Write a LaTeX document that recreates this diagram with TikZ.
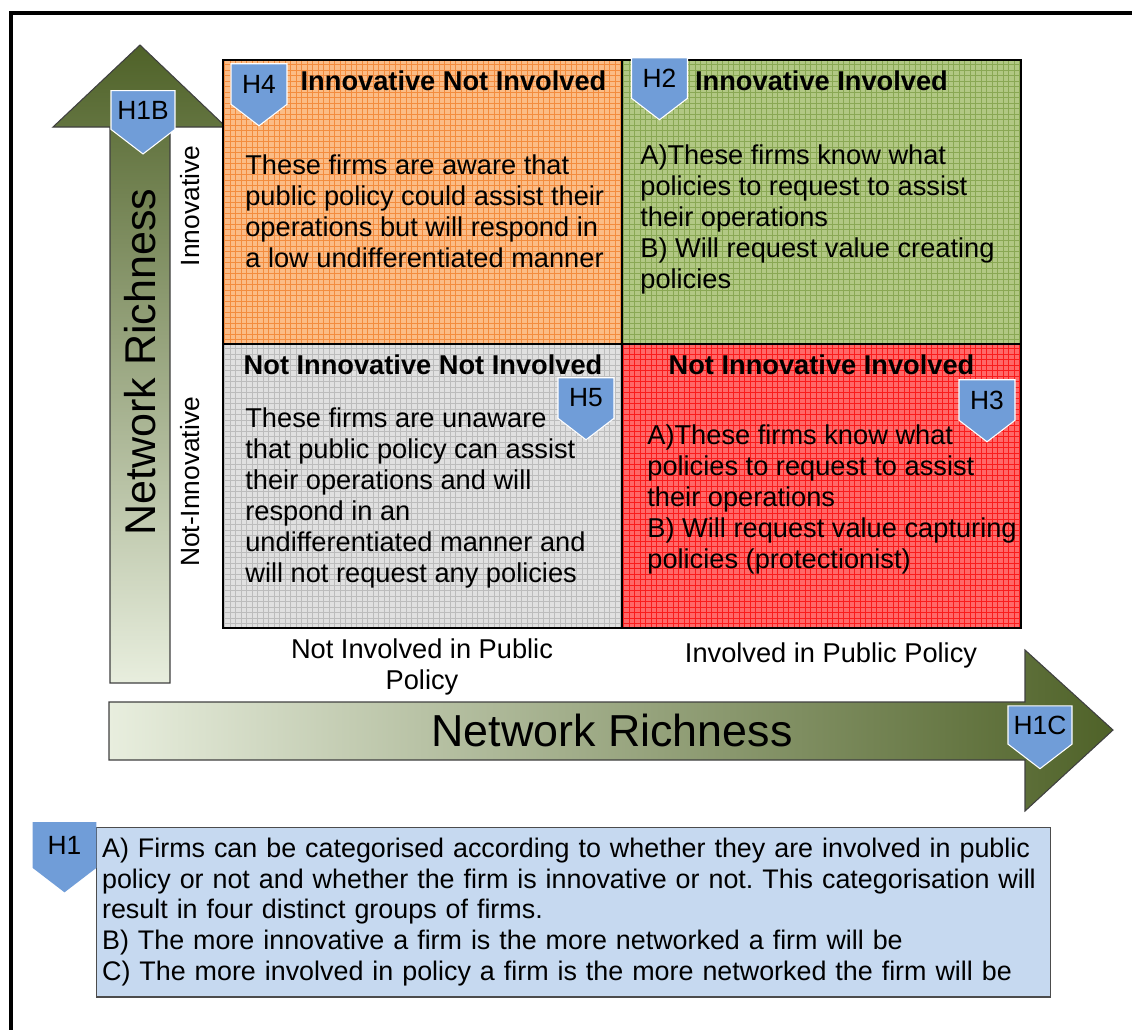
\documentclass[tikz,border=0pt]{standalone}
\usepackage{fontspec}
\setmainfont{Liberation Sans}
\usetikzlibrary{shapes.symbols,positioning}
\frenchspacing

\definecolor{hblue}{RGB}{112,157,216}
\definecolor{boxblue}{RGB}{198,217,240}
\definecolor{olivedark}{RGB}{79,98,40}
\definecolor{olivelight}{RGB}{232,238,222}
\definecolor{orgfill}{RGB}{251,188,134}
\definecolor{orgline}{RGB}{243,140,62}
\definecolor{grnfill}{RGB}{178,200,132}
\definecolor{grnline}{RGB}{138,168,84}
\definecolor{gryfill}{RGB}{224,224,224}
\definecolor{gryline}{RGB}{188,188,188}
\definecolor{redfill}{RGB}{255,104,104}
\definecolor{redline}{RGB}{250,28,28}

\tikzset{
  txt/.style={font=\fontsize{15.5}{17.7}\selectfont, inner sep=0pt, align=left},
  ttl/.style={font=\fontsize{15.5}{17.7}\selectfont\bfseries, inner sep=0pt},
  axl/.style={font=\fontsize{15}{17.7}\selectfont, inner sep=0pt, align=center},
  quad/.style={draw=black, line width=0.8pt, outer sep=0pt, inner sep=0pt,
    minimum width=7.98cm, minimum height=5.68cm,
    path picture={\draw[#1, line width=0.35pt, step=0.11cm]
      (path picture bounding box.south west) grid (path picture bounding box.north east);}},
  hyp/.style={signal, signal to=south, signal pointer angle=105, fill=hblue,
    draw=white, line width=0.6pt, font=\fontsize{15}{16}\selectfont,
    inner sep=0pt, minimum width=1.12cm, minimum height=1.07cm},
  hypw/.style={hyp, minimum width=1.28cm, minimum height=1.17cm},
  bigarr/.style={draw=black!75, line width=0.6pt},
}

\begin{document}
\begin{tikzpicture}[x=0.02cm, y=-0.02cm]
\useasboundingbox (0,0) rectangle (1132,1029);

% frame
\draw[line width=2.3pt] (11,1040) -- (11,13) -- (1140,13);

% Network richness arrows
\path[bigarr, top color=olivedark, bottom color=olivelight]
  (110,683) -- (110,127) -- (53,127) -- (140,45) -- (226,127)
  -- (170,127) -- (170,683) -- cycle;
\path[bigarr, left color=olivelight, right color=olivedark]
  (109,702) -- (1025,702) -- (1025,650) -- (1113,730) -- (1025,811)
  -- (1025,760) -- (109,760) -- cycle;

\node[font=\fontsize{24.5}{28}\selectfont, rotate=90] (nrup) at (140,362) {Network Richness};
\node[font=\fontsize{25.5}{29}\selectfont] (nrright) at (612,730) {Network Richness};

% the four quadrants
\node[quad=orgline, fill=orgfill] (q4) at (422.5,202) {};
\node[quad=grnline, fill=grnfill, right=0pt of q4] (q2) {};
\node[quad=gryline, fill=gryfill, below=0pt of q4] (q5) {};
\node[quad=redline, fill=redfill, right=0pt of q5] (q3) {};

% quadrant titles
\node[ttl] (t4) at (453.5,81) {Innovative Not Involved};
\node[ttl] (t2) at (821.5,81) {Innovative Involved};
\node[ttl] (t5) at (423,365) {Not Innovative Not Involved};
\node[ttl] (t3) at (821.5,365) {Not Innovative Involved};

% quadrant texts
\node[txt, anchor=north west] (b4) at (245,154)
  {These firms are aware that\\public policy could assist their\\operations but will respond in\\a low undifferentiated manner};
\node[txt, anchor=north west] (b2) at (640,144)
  {A)These firms know what\\policies to request to assist\\their operations\\B) Will request value creating\\policies};
\node[txt, anchor=north west] (b5) at (245,407)
  {These firms are unaware\\that public policy can assist\\their operations and will\\respond in an\\undifferentiated manner and\\will not request any policies};
\node[txt, anchor=north west] (b3) at (647,424)
  {A)These firms know what\\policies to request to assist\\their operations\\B) Will request value capturing\\policies (protectionist)};

% axis labels
\node[axl, rotate=90] (lin) at (190,206) {Innovative};
\node[axl, rotate=90] (lnotin) at (190,482) {Not-Innovative};
\node[axl, font=\fontsize{15.5}{17.7}\selectfont] (lnotinv) at (422,667) {Not Involved in Public\\Policy};
\node[axl, font=\fontsize{15.5}{17.7}\selectfont] (linv) at (831,655) {Involved in Public Policy};

% hypothesis box
\node[draw=black!70, fill=boxblue, line width=0.6pt, txt,
  font=\fontsize{15.3}{17.6}\selectfont, text width=18.86cm,
  inner xsep=0.12cm, minimum height=3.4cm] (h1box) at (573.5,912)
  {A) Firms can be categorised according to whether they are involved in public\\policy or not and whether the firm is innovative or not. This categorisation will\\result in four distinct groups of firms.\\B) The more innovative a firm is the more networked a firm will be\\C) The more involved in policy a firm is the more networked the firm will be};

% hypothesis markers
\node[hyp] (h4) at (259,84) {H4};
\node[hyp] (h2) at (659.5,78) {H2};
\node[hyp] (h5) at (586,398) {H5};
\node[hyp] (h3) at (987,400) {H3};
\node[hypw] (h1b) at (143,110) {H1B};
\node[hypw] (h1c) at (1040,725) {H1C};
\node[hypw, draw=none] (h1) at (64.5,845) {H1};

\end{tikzpicture}
\end{document}
